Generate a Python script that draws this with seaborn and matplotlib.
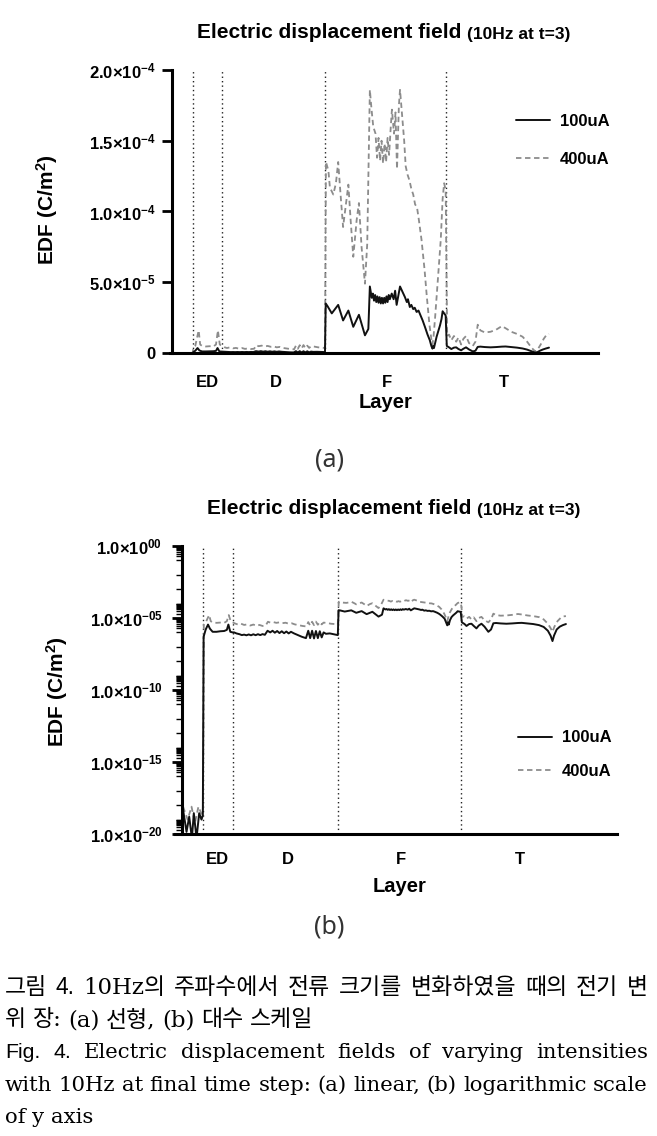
import matplotlib
matplotlib.use("Agg")
import matplotlib.pyplot as plt
import numpy as np
import seaborn as sns
from matplotlib.lines import Line2D
from matplotlib.ticker import FixedLocator, NullFormatter

# layer position along the stack (0-100) and EDF in C/m^2
layer_100 = [
    0.3, 1.2, 1.9, 2.6, 3.1, 3.8, 4.5, 5.1, 5.45,
    5.65, 6.2, 6.8, 7.3, 8.0, 9.0, 10.0, 11.0, 11.7, 12.1, 12.6, 13.2,
    13.6, 14.2, 15.0, 15.6, 16.2, 16.8, 17.4, 18.0, 18.6, 19.2, 19.8, 20.4, 21.0, 21.6,
    22.3, 23.0, 23.6, 24.2, 24.8, 25.4, 26.0, 26.6, 27.2, 27.8, 28.4, 29.2, 30.2, 31.2, 32.3,
    32.9, 33.4, 33.9, 34.4, 34.9, 35.4, 35.9, 36.4, 36.9, 37.5, 38.5, 39.5, 40.6,
    40.8, 41.3, 42.4, 44.1, 45.4, 46.8, 48.1, 49.6, 51.2, 52.1, 52.5,
    53.0, 53.3, 53.6, 53.9, 54.2, 54.5, 54.8, 55.1, 55.4, 55.7, 56.0, 56.3, 56.6, 56.9, 57.2, 57.5, 57.8,
    58.3, 58.8, 59.2, 59.6, 60.5, 61.2, 61.8, 62.3, 62.6, 63.1, 63.5, 64.0, 64.4, 64.9, 65.4, 65.8,
    66.5, 67.1, 67.8, 68.4, 68.8, 69.1, 69.3, 69.5, 69.8, 70.2, 70.6, 71.1, 71.5, 71.8, 72.2, 72.6,
    72.9, 73.6, 74.1, 74.8, 75.4, 76.0, 76.7, 77.3, 78.0, 78.8, 79.8, 80.5, 81.1, 81.8, 83.0, 84.5,
    86.0, 87.5, 88.5, 90.0, 91.5, 93.0, 94.2, 95.3, 96.0, 96.5, 96.9, 97.6, 98.4, 99.2, 100.0,
]
edf_100 = [
    5e-19, 1.4e-20, 1.6e-19, 5e-21, 2.8e-19, 5e-21, 2.8e-19, 1e-19, 2e-19,
    5e-7, 1.6e-6, 3.5e-6, 1.8e-6, 1.1e-6, 1.1e-6, 1.2e-6, 1.25e-6, 1.5e-6, 3.5e-6, 1.1e-6, 1.0e-6,
    1.0e-6, 8.5e-7, 7.5e-7, 6.5e-7, 7.0e-7, 6.3e-7, 7.2e-7, 6.3e-7, 7.4e-7, 6.4e-7, 7.5e-7, 6.5e-7, 7.6e-7, 6.8e-7,
    1.3e-6, 1.0e-6, 1.3e-6, 9.5e-7, 1.25e-6, 9.0e-7, 1.2e-6, 8.8e-7, 1.15e-6, 8.5e-7, 1.1e-6, 8.5e-7, 6.5e-7, 5.0e-7, 4.0e-7,
    1.3e-6, 4.0e-7, 1.3e-6, 3.8e-7, 1.25e-6, 4.0e-7, 1.2e-6, 4.5e-7, 1.0e-6, 8.0e-7, 8.5e-7, 7.5e-7, 6.5e-7,
    3.5e-5, 3.3e-5, 2.8e-5, 3.4e-5, 2.3e-5, 3.0e-5, 1.85e-5, 2.7e-5, 1.25e-5, 1.7e-5, 4.7e-5,
    3.9e-5, 4.2e-5, 3.7e-5, 4.1e-5, 3.6e-5, 4.0e-5, 3.55e-5, 3.95e-5, 3.5e-5, 3.9e-5, 3.5e-5, 3.9e-5, 3.55e-5, 4.0e-5, 3.6e-5, 4.1e-5, 3.8e-5,
    4.2e-5, 3.8e-5, 4.4e-5, 3.4e-5, 4.7e-5, 4.3e-5, 3.95e-5, 3.6e-5, 3.8e-5, 3.25e-5, 3.4e-5, 3.1e-5, 3.2e-5, 2.9e-5, 3.0e-5, 2.75e-5,
    2.3e-5, 1.85e-5, 1.3e-5, 9e-6, 5e-6, 3.1e-6, 5e-6, 3.5e-6, 7e-6, 1.15e-5, 1.5e-5, 1.95e-5, 2.4e-5, 2.95e-5, 2.8e-5, 2.65e-5,
    5.0e-6, 3.8e-6, 2.8e-6, 3.8e-6, 4.0e-6, 2.8e-6, 1.9e-6, 3.0e-6, 4.0e-6, 2.5e-6, 1.1e-6, 1.6e-6, 4.3e-6, 4.5e-6, 4.2e-6, 4.0e-6,
    4.2e-6, 4.5e-6, 4.6e-6, 4.2e-6, 3.8e-6, 3.2e-6, 2.4e-6, 1.3e-6, 6e-7, 2.5e-7, 6e-7, 1.6e-6, 2.5e-6, 3.2e-6, 3.8e-6,
]

layer_400 = [
    0.3, 1.5, 2.5, 3.4, 4.3, 5.1, 5.5,
    5.7, 6.2, 7.1, 7.5, 8.0, 9.0, 10.0, 11.0, 11.7, 12.2, 12.7, 13.2,
    13.8, 14.6, 15.4, 16.2, 17.0, 17.8, 18.6, 19.4, 20.2, 21.0, 21.8,
    22.4, 23.0, 23.8, 24.6, 25.4, 26.2, 27.0, 27.8, 28.6, 29.4, 30.4, 31.4, 32.4,
    32.9, 33.4, 33.9, 34.4, 34.9, 35.4, 35.9, 36.4, 36.9, 37.8, 38.8, 39.8, 40.6,
    40.85, 41.5, 41.9, 42.8, 43.5, 44.1, 44.7, 45.4, 46.3, 46.8, 47.4, 48.1, 49.0, 49.6, 50.3, 51.2, 51.8, 52.5,
    52.95, 53.4, 54.0, 54.4, 54.8, 55.2, 55.6, 56.0, 56.4, 56.8, 57.2, 57.6, 58.0, 58.35, 58.9, 59.3, 59.7, 60.2, 60.5,
    61.0, 61.6, 62.0, 62.5, 63.0, 63.5, 64.0, 64.5, 65.0, 65.5, 66.2, 67.0, 67.6, 68.3, 68.8, 69.1,
    69.4, 69.8, 70.3, 70.8, 71.3, 71.8, 72.2, 72.6,
    72.8, 73.0, 73.5, 74.1, 74.8, 75.4, 76.0, 76.7, 77.3, 78.0, 78.8, 79.8, 80.5, 81.1, 81.8, 83.0,
    84.5, 86.0, 87.5, 88.5, 90.0, 91.5, 93.0, 94.2, 95.3, 96.0, 96.5, 97.0, 97.8, 98.6, 99.4, 100.0,
]
edf_400 = [
    7.9e-19, 1e-19, 7.9e-19, 6e-20, 7.9e-19, 2.5e-19, 6e-19,
    3.5e-6, 5e-6, 1.6e-5, 6e-6, 5e-6, 4.6e-6, 4.8e-6, 4.6e-6, 6e-6, 1.6e-5, 6e-6, 5e-6,
    4.2e-6, 3.5e-6, 4.0e-6, 3.3e-6, 3.6e-6, 3.0e-6, 3.5e-6, 2.9e-6, 3.3e-6, 2.8e-6, 3.0e-6,
    5.5e-6, 4.8e-6, 5.2e-6, 4.6e-6, 5.0e-6, 4.4e-6, 4.7e-6, 4.0e-6, 4.3e-6, 3.6e-6, 3.2e-6, 2.8e-6, 2.6e-6,
    5.2e-6, 3.0e-6, 5.5e-6, 3.2e-6, 5.6e-6, 3.4e-6, 5.2e-6, 3.6e-6, 4.8e-6, 4.5e-6, 4.0e-6, 3.8e-6, 3.5e-6,
    1.35e-4, 1.29e-4, 1.17e-4, 1.12e-4, 1.2e-4, 1.35e-4, 1.13e-4, 8.9e-5, 1.08e-4, 1.19e-4, 9.4e-5, 6.8e-5, 9.4e-5, 1.06e-4,
    7.5e-5, 4.9e-5, 7.7e-5, 1.86e-4,
    1.72e-4, 1.6e-4, 1.55e-4, 1.38e-4, 1.52e-4, 1.36e-4, 1.5e-4, 1.34e-4, 1.48e-4, 1.35e-4, 1.52e-4, 1.4e-4, 1.58e-4,
    1.72e-4, 1.55e-4, 1.7e-4, 1.3e-4, 1.75e-4, 1.86e-4,
    1.7e-4, 1.5e-4, 1.32e-4, 1.26e-4, 1.22e-4, 1.16e-4, 1.12e-4, 1.05e-4, 1.03e-4, 9.4e-5, 8.0e-5, 5.9e-5, 4.0e-5, 2.0e-5,
    1.0e-5, 6e-6, 1.2e-5, 2.5e-5, 4.3e-5, 6.2e-5, 8.0e-5, 1.09e-4, 1.2e-4, 1.15e-4,
    6e-5, 1.2e-5, 1.3e-5, 9e-6, 1.2e-5, 8e-6, 1.1e-5, 6e-6, 1.0e-5, 1.2e-5, 7e-6, 5e-6, 8e-6, 2.0e-5, 1.6e-5, 1.45e-5,
    1.5e-5, 1.65e-5, 1.9e-5, 1.75e-5, 1.5e-5, 1.35e-5, 1.15e-5, 8e-6, 4e-6, 2e-6, 1.1e-6, 2.5e-6, 6e-6, 1.0e-5, 1.3e-5, 1.35e-5,
]

boundaries = [5.6, 13.2, 40.7, 72.7]
layer_names = ["ED", "D", "F", "T"]
layer_name_pos = [9.3, 27.5, 57.0, 88.0]

lin_ticks = [0, 5e-5, 1e-4, 1.5e-4, 2e-4]
lin_labels = ["0", r"$5.0{\times}10^{-5}$", r"$1.0{\times}10^{-4}$",
              r"$1.5{\times}10^{-4}$", r"$2.0{\times}10^{-4}$"]
log_ticks = [1e-20, 1e-15, 1e-10, 1e-5, 1.0]
log_labels = [r"$1.0{\times}10^{-20}$", r"$1.0{\times}10^{-15}$", r"$1.0{\times}10^{-10}$",
              r"$1.0{\times}10^{-05}$", r"$1.0{\times}10^{00}$"]

caption_lines = [
    ("그림 4. 10Hz의 주파수에서 전류 크기를 변화하였을 때의 전기 변", True, 16.5),
    ("위 장: (a) 선형, (b) 대수 스케일", False, 16.5),
    ("Fig. 4. Electric displacement fields of varying intensities", True, 15.3),
    ("with 10Hz at final time step: (a) linear, (b) logarithmic scale", True, 15.3),
    ("of y axis", False, 15.3),
]

W, H = 657, 1136
BLACK = "#111111"
GREY = "#8c8c8c"

sns.set_theme(style="ticks")
plt.rcParams["font.family"] = ["Liberation Sans", "DejaVu Sans"]
plt.rcParams["font.weight"] = "bold"
plt.rcParams["text.color"] = "black"
plt.rcParams["axes.labelcolor"] = "black"
plt.rcParams["xtick.color"] = "black"
plt.rcParams["ytick.color"] = "black"
plt.rcParams["mathtext.fontset"] = "custom"
plt.rcParams["mathtext.rm"] = "Liberation Sans:bold"
plt.rcParams["mathtext.bf"] = "Liberation Sans:bold"
plt.rcParams["mathtext.it"] = "Liberation Sans:bold:italic"
plt.rcParams["mathtext.sf"] = "Liberation Sans:bold"


def px_box(left, top, right, bottom):
    return [left / W, 1 - bottom / H, (right - left) / W, (bottom - top) / H]


def draw_panel(ax, tick_size, label_pad, legend_anchor, legend_gap):
    sns.lineplot(x=layer_400, y=edf_400, ax=ax, color=GREY, lw=1.3,
                 linestyle=(0, (3, 2)), sort=False, estimator=None)
    sns.lineplot(x=layer_100, y=edf_100, ax=ax, color=BLACK, lw=1.4,
                 sort=False, estimator=None)
    for b in boundaries:
        ax.axvline(b, color="#222222", lw=1.0, linestyle=(0, (1, 2.2)), zorder=1)

    ax.spines[["top", "right"]].set_visible(False)
    for side in ["left", "bottom"]:
        ax.spines[side].set_linewidth(2.2)
        ax.spines[side].set_color("black")
    ax.spines["left"].set_position(("data", 0))

    ax.set_xticks(layer_name_pos)
    ax.set_xticklabels(layer_names, fontsize=12, fontweight="bold")
    ax.tick_params(axis="x", length=0, pad=label_pad)
    ax.tick_params(axis="y", which="major", length=7, width=2, pad=5,
                   labelsize=tick_size, color="black")
    ax.set_xlabel("")
    ax.set_ylabel("")

    handles = [Line2D([], [], color=BLACK, lw=1.4),
               Line2D([], [], color=GREY, lw=1.3, linestyle=(0, (3, 2)))]
    ax.legend(handles, ["100uA", "400uA"], frameon=False, loc="center",
              bbox_to_anchor=legend_anchor, handlelength=2.0, handletextpad=0.6,
              labelspacing=legend_gap, prop={"weight": "bold", "size": 12})


def add_title(fig, ax, x_px, base_px):
    t = fig.text(x_px / W, 1 - base_px / H, "Electric displacement field ",
                 fontsize=15, fontweight="bold", va="baseline")
    ax.annotate("(10Hz at t=3)", xy=(1, 0), xycoords=t, va="bottom",
                fontsize=12.5, fontweight="bold")


def caption(fig, renderer, text, base_px, justify, size):
    words = text.split(" ")
    arts = []
    for i, w in enumerate(words):
        if i < 2 and (w in ("그림", "Fig.", "4.")):
            fam = ["Liberation Sans", "Noto Sans CJK KR"]
        else:
            fam = ["DejaVu Serif", "Noto Sans CJK KR"]
        arts.append(fig.text(0, 1 - base_px / H, w, family=fam, fontsize=size,
                             fontweight="normal", va="baseline", color="black"))
    widths = [a.get_window_extent(renderer).width for a in arts]
    x0, x1 = 5, 648
    gap = (x1 - x0 - sum(widths)) / (len(arts) - 1) if justify else 6.5
    x = x0
    for a, w in zip(arts, widths):
        a.set_x(x / W)
        x += w + gap


fig = plt.figure(figsize=(W / 100, H / 100), dpi=100)
fig.patch.set_facecolor("white")

# (a) linear
ax1 = fig.add_axes(px_box(170, 70, 598, 353))
draw_panel(ax1, 12, 16, (0.918, 0.751), 1.35)
ax1.set_xlim(-0.5, 113)
ax1.set_ylim(0, 2e-4)
ax1.yaxis.set_major_locator(FixedLocator(lin_ticks))
ax1.set_yticklabels(lin_labels)

# (b) log
ax2 = fig.add_axes(px_box(175, 546, 617, 834))
draw_panel(ax2, 12, 13, (0.882, 0.276), 1.1)
ax2.set_yscale("log")
ax2.set_xlim(-1.8, 113.3)
ax2.set_ylim(1e-20, 1.0)
ax2.yaxis.set_major_locator(FixedLocator(log_ticks))
ax2.set_yticklabels(log_labels)
minor = []
for e in range(-20, 0):
    if e % 5 != 0:
        minor.append(10.0 ** e)
for e in [-5, -10, -15]:
    minor += [k * 10.0 ** e for k in range(2, 10)]
for e in [-1, -6, -11, -16]:
    minor += [k * 10.0 ** e for k in range(2, 10)]
minor += [k * 1e-20 for k in range(2, 10)]
ax2.yaxis.set_minor_locator(FixedLocator(minor))
ax2.yaxis.set_minor_formatter(NullFormatter())
ax2.tick_params(axis="y", which="minor", length=4, width=1.0, color="black")
ax2.tick_params(axis="y", which="major", pad=7)

add_title(fig, ax1, 197, 38)
add_title(fig, ax2, 207, 514)

ylab = r"EDF (C/m$^{2}$)"
fig.text(47 / W, 1 - 210 / H, ylab, rotation=90, ha="center", va="center",
         fontsize=15, fontweight="bold")
fig.text(57 / W, 1 - 692 / H, ylab, rotation=90, ha="center", va="center",
         fontsize=15, fontweight="bold")
fig.text(386 / W, 1 - 403 / H, "Layer", ha="center", va="center",
         fontsize=14.5, fontweight="bold")
fig.text(400 / W, 1 - 887 / H, "Layer", ha="center", va="center",
         fontsize=14.5, fontweight="bold")

fig.text(329 / W, 1 - 460 / H, "(a)", ha="center", va="center", family="Noto Sans",
         fontsize=18, fontweight="light", color="#333333")
fig.text(329 / W, 1 - 927 / H, "(b)", ha="center", va="center", family="Noto Sans",
         fontsize=18, fontweight="light", color="#333333")

renderer = fig.canvas.get_renderer()
for (text, just, size), base in zip(caption_lines, [994, 1026, 1058, 1091, 1123]):
    caption(fig, renderer, text, base, just, size)

fig.savefig("out.png", dpi=100, facecolor="white")
